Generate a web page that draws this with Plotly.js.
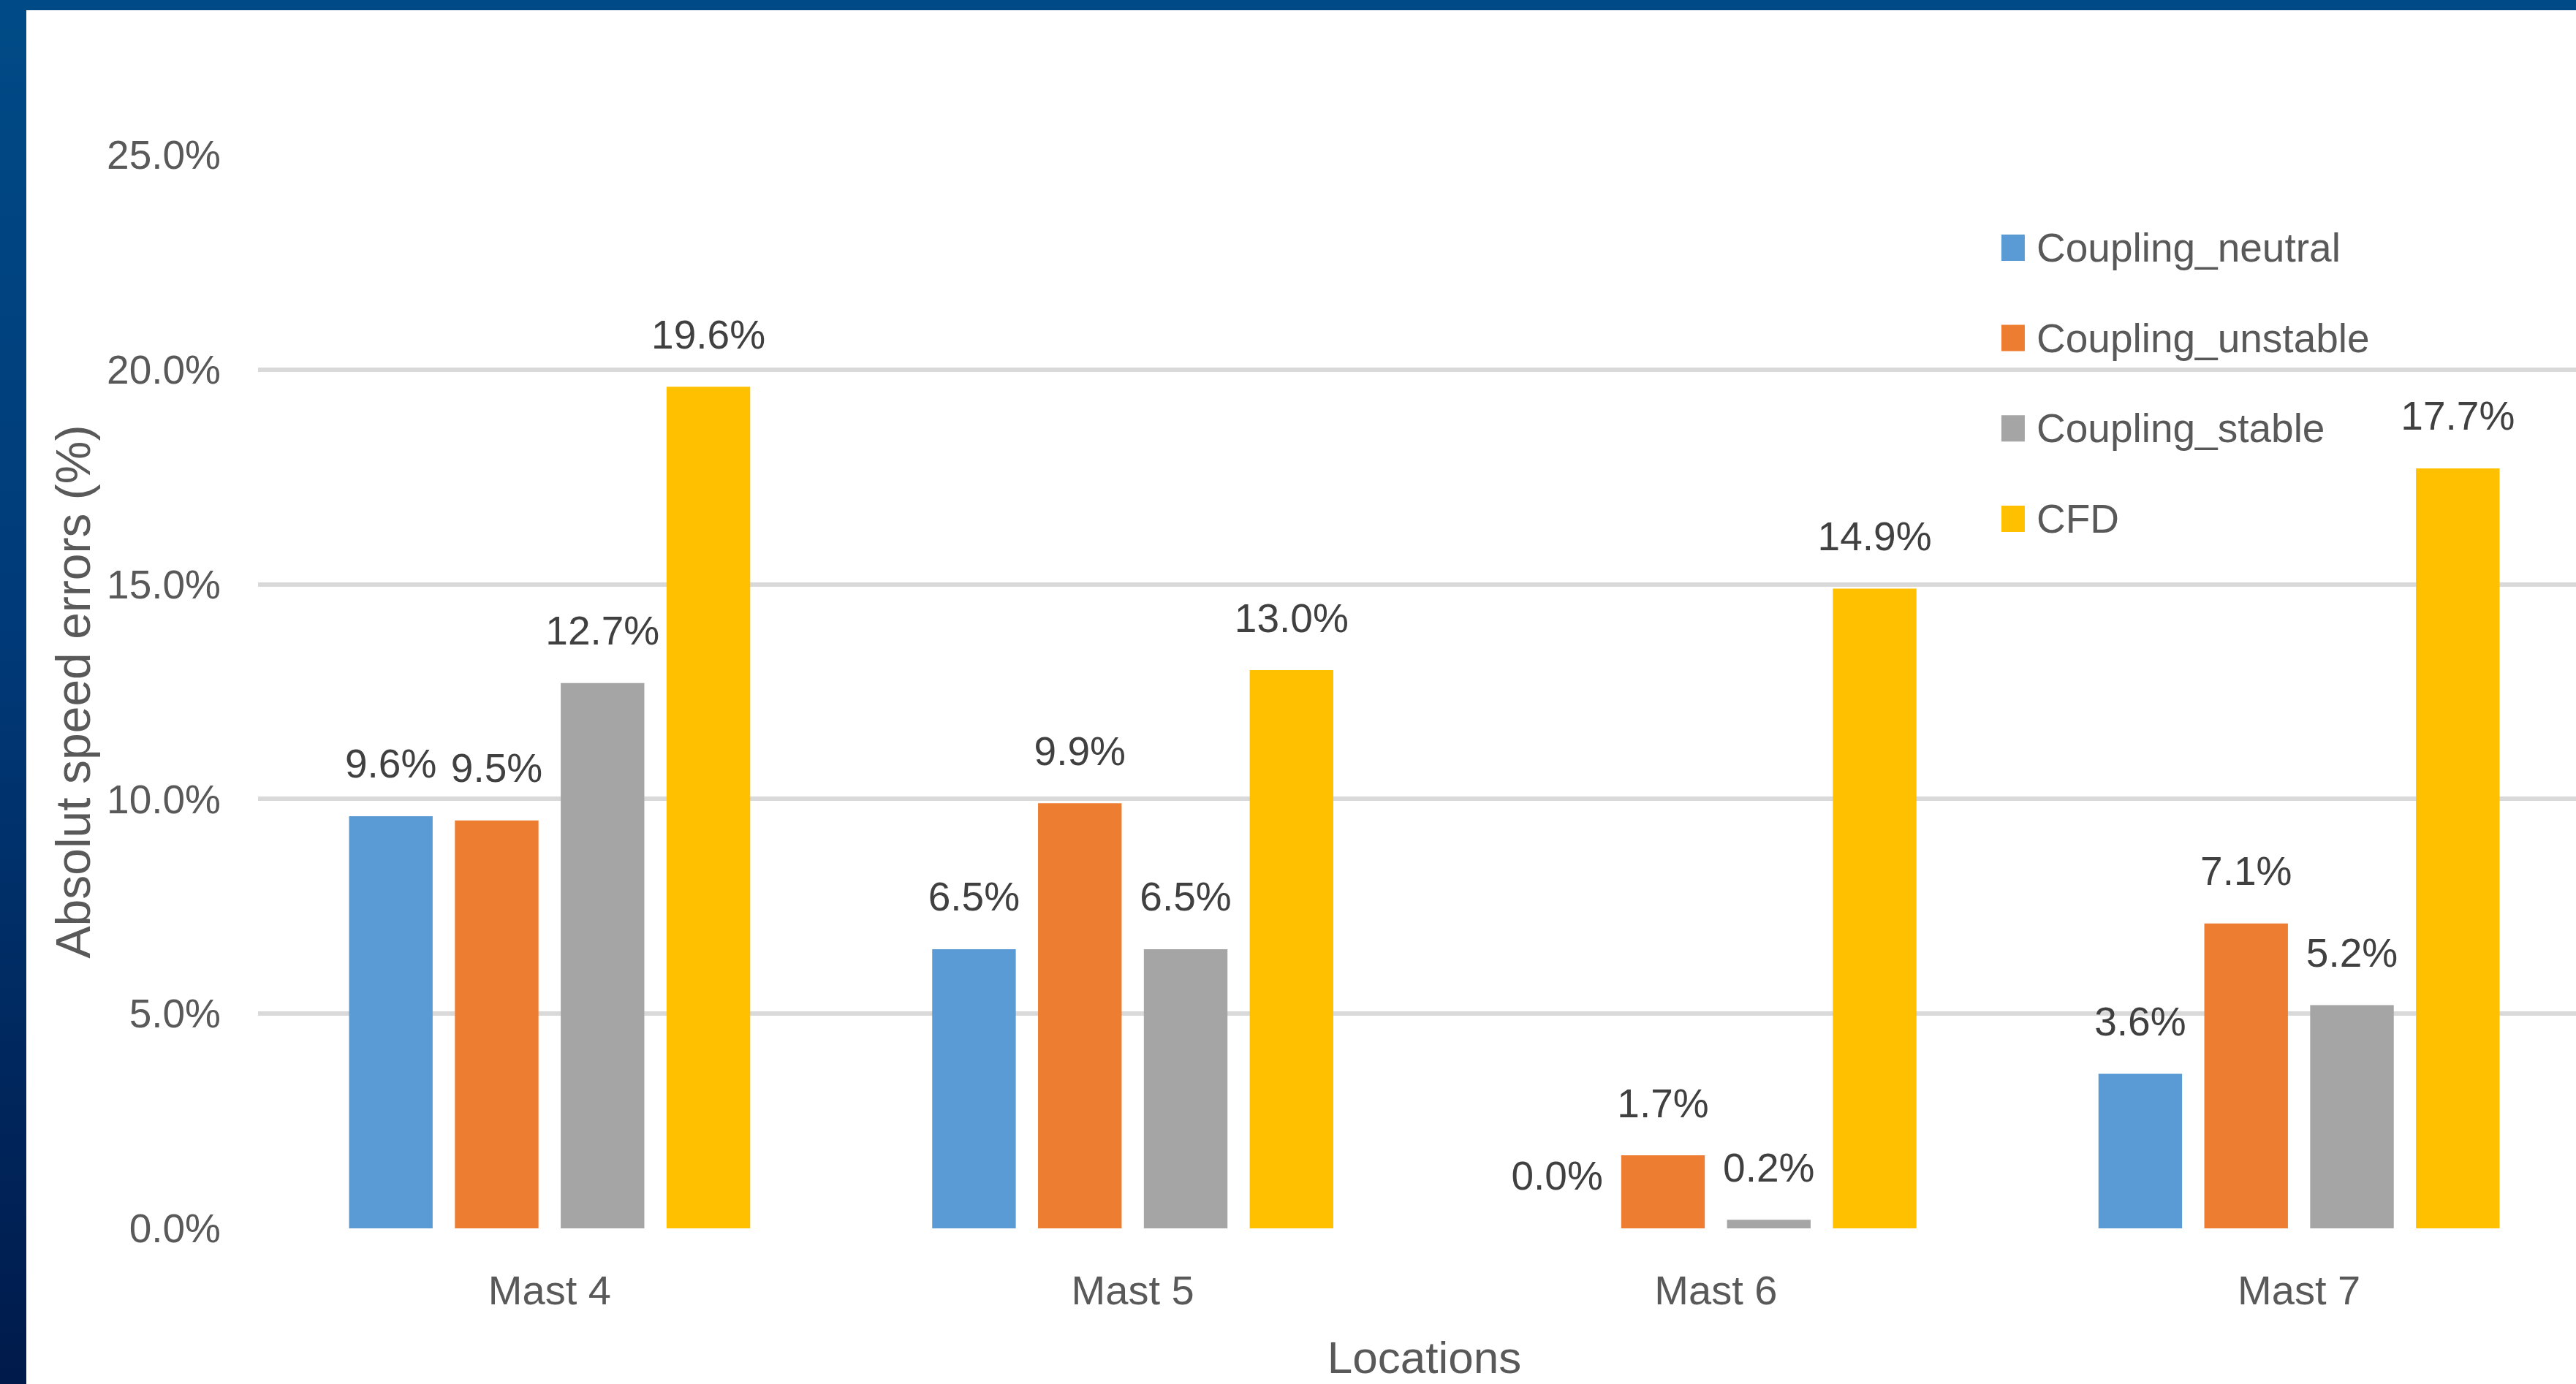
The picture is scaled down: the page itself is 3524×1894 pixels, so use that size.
<!DOCTYPE html>
<html>
<head>
<meta charset="utf-8">
<script src="https://cdn.plot.ly/plotly-3.0.1.min.js"></script>
<style>
  html, body { margin: 0; padding: 0; width: 3524px; height: 1894px; overflow: hidden;
    background: linear-gradient(to bottom, #004b87 0%, #003a78 45%, #001a4b 100%); }
  #chart { position: absolute; left: 36px; top: 14px; width: 3508px; height: 1960px; background: #ffffff; }
</style>
</head>
<body>
<div id="chart"></div>
<script>
// ---- data ----
const categories = ['Mast 4', 'Mast 5', 'Mast 6', 'Mast 7'];
const seriesNames = ['Coupling_neutral', 'Coupling_unstable', 'Coupling_stable', 'CFD'];
const couplingNeutral = [9.6, 6.5, 0.0, 3.6];
const couplingUnstable = [9.5, 9.9, 1.7, 7.1];
const couplingStable = [12.7, 6.5, 0.2, 5.2];
const cfd = [19.6, 13.0, 14.9, 17.7];
const yTickValues = [0, 5, 10, 15, 20, 25];
const yTickLabels = ['0.0%', '5.0%', '10.0%', '15.0%', '20.0%', '25.0%'];
const xAxisTitle = 'Locations';
const yAxisTitle = 'Absolut speed errors (%)';

// ---- styles ----
const seriesValues = [couplingNeutral, couplingUnstable, couplingStable, cfd];
const seriesColors = ['#5b9bd5', '#ed7d31', '#a5a5a5', '#ffc000'];
const fontFam = '"Liberation Sans", Arial, sans-serif';
const LABEL_PAD = 0.64; // gap (axis units) between bar top and its label

const traces = [];
seriesValues.forEach((vals, i) => {
  traces.push({
    type: 'bar', name: seriesNames[i], x: categories, y: vals,
    offsetgroup: String(i), marker: { color: seriesColors[i] },
    showlegend: false, hoverinfo: 'skip'
  });
});
// transparent spacer bars carrying the data labels
seriesValues.forEach((vals, i) => {
  traces.push({
    type: 'bar', name: seriesNames[i] + ' label', x: categories,
    y: vals.map(() => LABEL_PAD), base: vals, customdata: vals,
    offsetgroup: String(i), marker: { color: 'rgba(0,0,0,0)' },
    texttemplate: '%{customdata:.1f}%', textposition: 'outside', cliponaxis: false,
    constraintext: 'none',
    textfont: { family: fontFam, size: 55, color: '#404040' },
    showlegend: false, hoverinfo: 'skip'
  });
});

// manual legend (large square keys like the reference)
const legendX = 0.7524, legendTextX = 0.7619, legendTopY = 0.9136, legendStep = 0.0842;
const shapes = [], annotations = [];
seriesNames.forEach((name, i) => {
  const yy = legendTopY - i * legendStep;
  shapes.push({
    type: 'rect', xref: 'paper', yref: 'paper', xsizemode: 'pixel', ysizemode: 'pixel',
    xanchor: legendX, yanchor: yy, x0: -16, x1: 16, y0: -18, y1: 18,
    fillcolor: seriesColors[i], line: { width: 0 }
  });
  annotations.push({
    xref: 'paper', yref: 'paper', x: legendTextX, y: yy, xanchor: 'left', yanchor: 'middle',
    text: name, showarrow: false, font: { family: fontFam, size: 55, color: '#595959' }
  });
});

const layout = {
  width: 3508, height: 1960,
  margin: { l: 317, r: 0, t: 198, b: 293 },
  paper_bgcolor: '#ffffff', plot_bgcolor: '#ffffff',
  barmode: 'group', bargap: 0.274, bargroupgap: 0.21,
  showlegend: false,
  xaxis: {
    type: 'category', range: [-0.5, 3.5], showgrid: false, zeroline: false, showline: false,
    ticks: '', ticklabelstandoff: 47,
    tickfont: { family: fontFam, size: 56, color: '#595959' },
    title: { text: xAxisTitle, font: { family: fontFam, size: 62, color: '#595959' }, standoff: 39 }
  },
  yaxis: {
    range: [0, 25], tickmode: 'array', tickvals: yTickValues, ticktext: yTickLabels,
    showgrid: true, gridcolor: '#d9d9d9', gridwidth: 6, zeroline: false, showline: false,
    ticks: '', ticklabelstandoff: 50,
    tickfont: { family: fontFam, size: 55, color: '#595959' },
    title: { text: yAxisTitle, font: { family: fontFam, size: 66, color: '#595959' }, standoff: 0 }
  },
  shapes: shapes, annotations: annotations
};

Plotly.newPlot('chart', traces, layout, { staticPlot: true, displayModeBar: false });
</script>
</body>
</html>
